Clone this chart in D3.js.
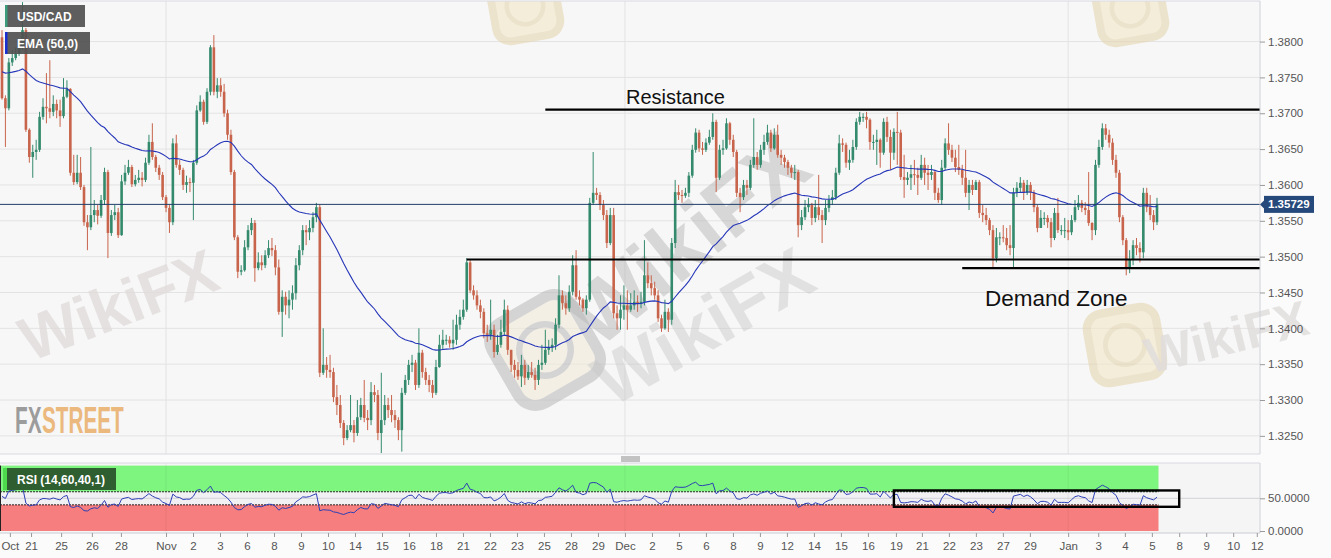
<!DOCTYPE html>
<html><head><meta charset="utf-8">
<script src="https://cdn.jsdelivr.net/npm/d3@7"></script>
<style>
body{margin:0;background:#ffffff;}
svg{display:block;font-family:"Liberation Sans",Arial,sans-serif;}
</style>
</head><body>
<svg id="chart" width="1331" height="558"></svg>
<script>
// ---------------- DATA ----------------
const symbol = "USD/CAD";
const emaLabel = "EMA (50,0)";
const rsiLabel = "RSI (14,60,40,1)";
const firstOpen = 1.3806;
const closes = [
1.3721,1.3707,1.3771,1.3777,1.3783,1.3791,1.3816,1.3677,1.3639,1.3646,
1.3649,1.3695,1.3709,1.3707,1.3702,1.3713,1.3704,1.3696,1.3723,1.3734,
1.3617,1.3604,1.3617,1.3597,1.3548,1.3541,1.3558,1.3565,1.3557,1.3579,
1.3618,1.3533,1.3558,1.3562,1.3530,1.3605,1.3617,1.3625,1.3601,1.3607,
1.3610,1.3607,1.3631,1.3660,1.3639,1.3624,1.3614,1.3583,1.3568,1.3548,
1.3658,1.3628,1.3621,1.3600,1.3604,1.3603,1.3631,1.3704,1.3716,1.3688,
1.3730,1.3792,1.3730,1.3739,1.3730,1.3700,1.3670,1.3618,1.3527,1.3479,
1.3481,1.3513,1.3537,1.3547,1.3484,1.3492,1.3488,1.3502,1.3512,1.3509,
1.3485,1.3423,1.3444,1.3432,1.3440,1.3449,1.3488,1.3509,1.3537,1.3534,
1.3540,1.3555,1.3569,1.3338,1.3349,1.3342,1.3339,1.3304,1.3293,1.3268,
1.3247,1.3258,1.3265,1.3254,1.3276,1.3293,1.3275,1.3272,1.3311,1.3307,
1.3254,1.3272,1.3293,1.3286,1.3279,1.3272,1.3258,1.3310,1.3328,1.3349,
1.3352,1.3321,1.3366,1.3339,1.3328,1.3321,1.3310,1.3346,1.3377,1.3384,
1.3384,1.3379,1.3384,1.3405,1.3416,1.3426,1.3492,1.3453,1.3446,1.3432,
1.3423,1.3393,1.3391,1.3398,1.3367,1.3377,1.3395,1.3426,1.3370,1.3349,
1.3342,1.3333,1.3349,1.3331,1.3339,1.3335,1.3328,1.3349,1.3352,1.3370,
1.3373,1.3377,1.3405,1.3446,1.3435,1.3428,1.3451,1.3488,1.3444,1.3440,
1.3428,1.3440,1.3575,1.3589,1.3586,1.3572,1.3558,1.3519,1.3558,1.3421,
1.3414,1.3426,1.3432,1.3426,1.3432,1.3437,1.3434,1.3437,1.3474,1.3463,
1.3456,1.3446,1.3414,1.3400,1.3423,1.3412,1.3519,1.3590,1.3586,1.3585,
1.3589,1.3613,1.3649,1.3673,1.3651,1.3649,1.3659,1.3667,1.3688,1.3610,
1.3649,1.3651,1.3686,1.3663,1.3646,1.3589,1.3583,1.3600,1.3596,1.3628,
1.3639,1.3628,1.3649,1.3660,1.3673,1.3651,1.3670,1.3642,1.3638,1.3632,
1.3624,1.3617,1.3618,1.3544,1.3555,1.3569,1.3572,1.3554,1.3569,1.3558,
1.3551,1.3568,1.3579,1.3583,1.3617,1.3658,1.3656,1.3631,1.3635,1.3653,
1.3688,1.3695,1.3695,1.3691,1.3660,1.3660,1.3663,1.3645,1.3688,1.3667,
1.3645,1.3674,1.3673,1.3611,1.3607,1.3610,1.3615,1.3614,1.3610,1.3628,
1.3617,1.3614,1.3618,1.3589,1.3579,1.3624,1.3658,1.3649,1.3638,1.3625,
1.3621,1.3610,1.3589,1.3600,1.3593,1.3604,1.3561,1.3558,1.3551,1.3537,
1.3498,1.3527,1.3527,1.3526,1.3516,1.3512,1.3589,1.3596,1.3603,1.3589,
1.3600,1.3589,1.3569,1.3540,1.3554,1.3554,1.3548,1.3526,1.3561,1.3537,
1.3537,1.3537,1.3534,1.3551,1.3569,1.3575,1.3568,1.3565,1.3547,1.3537,
1.3628,1.3653,1.3679,1.3670,1.3659,1.3635,1.3617,1.3555,1.3523,1.3484,
1.3496,1.3516,1.3512,1.3506,1.3589,1.3569,1.3558,1.3548,1.3573];
const highs = [
1.3816,1.3725,1.3777,1.3788,1.3792,1.3802,1.3855,1.3819,1.3679,1.3656,
1.3663,1.3702,1.3721,1.3756,1.3774,1.3725,1.3719,1.3719,1.3749,1.3746,
1.3735,1.3642,1.3642,1.3639,1.3600,1.3558,1.3653,1.3579,1.3572,1.3586,
1.3624,1.3621,1.3565,1.3572,1.3568,1.3614,1.3628,1.3635,1.3628,1.3614,
1.3621,1.3618,1.3638,1.3670,1.3686,1.3642,1.3628,1.3618,1.3586,1.3572,
1.3665,1.3670,1.3635,1.3624,1.3613,1.3610,1.3635,1.3711,1.3725,1.3719,
1.3735,1.3795,1.3809,1.3749,1.3749,1.3741,1.3705,1.3677,1.3621,1.3530,
1.3488,1.3523,1.3544,1.3554,1.3551,1.3506,1.3502,1.3509,1.3523,1.3526,
1.3516,1.3496,1.3453,1.3451,1.3453,1.3460,1.3498,1.3516,1.3544,1.3544,
1.3551,1.3562,1.3575,1.3572,1.3400,1.3360,1.3363,1.3345,1.3321,1.3307,
1.3272,1.3265,1.3307,1.3272,1.3300,1.3303,1.3328,1.3286,1.3325,1.3321,
1.3314,1.3338,1.3307,1.3303,1.3307,1.3286,1.3276,1.3317,1.3335,1.3356,
1.3363,1.3356,1.3400,1.3370,1.3345,1.3335,1.3328,1.3356,1.3391,1.3398,
1.3391,1.3389,1.3412,1.3419,1.3426,1.3440,1.3498,1.3496,1.3460,1.3453,
1.3440,1.3428,1.3405,1.3440,1.3405,1.3391,1.3412,1.3440,1.3432,1.3370,
1.3356,1.3353,1.3363,1.3356,1.3349,1.3353,1.3345,1.3356,1.3377,1.3398,
1.3384,1.3386,1.3414,1.3474,1.3453,1.3446,1.3460,1.3502,1.3509,1.3453,
1.3442,1.3446,1.3582,1.3646,1.3596,1.3590,1.3579,1.3565,1.3568,1.3568,
1.3432,1.3446,1.3460,1.3453,1.3449,1.3453,1.3446,1.3451,1.3523,1.3492,
1.3474,1.3465,1.3453,1.3419,1.3440,1.3428,1.3526,1.3607,1.3600,1.3593,
1.3596,1.3618,1.3656,1.3679,1.3677,1.3660,1.3665,1.3677,1.3700,1.3691,
1.3656,1.3663,1.3693,1.3688,1.3670,1.3649,1.3596,1.3607,1.3607,1.3635,
1.3693,1.3646,1.3656,1.3670,1.3684,1.3677,1.3679,1.3684,1.3649,1.3642,
1.3635,1.3628,1.3628,1.3621,1.3565,1.3579,1.3582,1.3575,1.3579,1.3614,
1.3565,1.3579,1.3586,1.3593,1.3624,1.3670,1.3665,1.3659,1.3649,1.3663,
1.3693,1.3702,1.3700,1.3702,1.3693,1.3670,1.3677,1.3665,1.3693,1.3695,
1.3677,1.3679,1.3702,1.3677,1.3642,1.3618,1.3628,1.3635,1.3624,1.3642,
1.3638,1.3628,1.3628,1.3621,1.3596,1.3635,1.3665,1.3686,1.3656,1.3649,
1.3656,1.3628,1.3649,1.3607,1.3607,1.3607,1.3607,1.3572,1.3568,1.3554,
1.3544,1.3540,1.3534,1.3544,1.3540,1.3544,1.3596,1.3604,1.3611,1.3607,
1.3607,1.3604,1.3593,1.3572,1.3565,1.3562,1.3558,1.3554,1.3568,1.3582,
1.3544,1.3554,1.3551,1.3558,1.3579,1.3586,1.3579,1.3576,1.3618,1.3548,
1.3635,1.3663,1.3686,1.3685,1.3677,1.3665,1.3642,1.3621,1.3558,1.3526,
1.3509,1.3523,1.3526,1.3520,1.3596,1.3596,1.3586,1.3565,1.3582];
const lows = [
1.3719,1.3653,1.3704,1.3766,1.3774,1.3780,1.3788,1.3674,1.3631,1.3610,
1.3635,1.3646,1.3691,1.3686,1.3693,1.3696,1.3693,1.3681,1.3693,1.3721,
1.3613,1.3600,1.3601,1.3593,1.3543,1.3509,1.3537,1.3548,1.3545,1.3554,
1.3572,1.3498,1.3529,1.3551,1.3526,1.3529,1.3600,1.3614,1.3597,1.3598,
1.3603,1.3598,1.3604,1.3628,1.3635,1.3618,1.3607,1.3579,1.3562,1.3533,
1.3544,1.3624,1.3614,1.3593,1.3589,1.3590,1.3551,1.3628,1.3702,1.3684,
1.3685,1.3725,1.3725,1.3721,1.3723,1.3695,1.3663,1.3614,1.3523,1.3470,
1.3474,1.3479,1.3509,1.3530,1.3465,1.3481,1.3481,1.3484,1.3498,1.3501,
1.3474,1.3419,1.3388,1.3419,1.3414,1.3426,1.3440,1.3481,1.3502,1.3516,
1.3523,1.3534,1.3548,1.3332,1.3335,1.3331,1.3331,1.3297,1.3279,1.3261,
1.3237,1.3244,1.3255,1.3241,1.3250,1.3272,1.3269,1.3258,1.3265,1.3297,
1.3244,1.3226,1.3265,1.3275,1.3269,1.3261,1.3244,1.3228,1.3307,1.3321,
1.3339,1.3314,1.3317,1.3331,1.3321,1.3311,1.3303,1.3307,1.3345,1.3370,
1.3377,1.3373,1.3370,1.3377,1.3398,1.3412,1.3423,1.3449,1.3440,1.3426,
1.3414,1.3386,1.3381,1.3384,1.3359,1.3363,1.3373,1.3391,1.3363,1.3339,
1.3331,1.3328,1.3318,1.3321,1.3328,1.3331,1.3314,1.3321,1.3342,1.3349,
1.3363,1.3367,1.3370,1.3400,1.3426,1.3419,1.3423,1.3446,1.3440,1.3432,
1.3423,1.3419,1.3437,1.3572,1.3579,1.3565,1.3551,1.3512,1.3516,1.3414,
1.3398,1.3398,1.3412,1.3398,1.3423,1.3426,1.3423,1.3428,1.3432,1.3456,
1.3446,1.3440,1.3409,1.3395,1.3398,1.3395,1.3405,1.3512,1.3579,1.3575,
1.3582,1.3583,1.3610,1.3645,1.3646,1.3642,1.3646,1.3656,1.3663,1.3590,
1.3607,1.3642,1.3649,1.3656,1.3639,1.3583,1.3562,1.3579,1.3586,1.3593,
1.3624,1.3621,1.3624,1.3642,1.3656,1.3646,1.3649,1.3638,1.3628,1.3624,
1.3614,1.3610,1.3607,1.3527,1.3537,1.3551,1.3562,1.3544,1.3548,1.3551,
1.3519,1.3544,1.3562,1.3572,1.3579,1.3614,1.3646,1.3624,1.3621,1.3631,
1.3649,1.3684,1.3688,1.3679,1.3649,1.3649,1.3628,1.3624,1.3642,1.3660,
1.3621,1.3635,1.3628,1.3607,1.3582,1.3600,1.3593,1.3600,1.3586,1.3607,
1.3600,1.3593,1.3607,1.3579,1.3575,1.3572,1.3621,1.3642,1.3632,1.3618,
1.3614,1.3600,1.3583,1.3565,1.3586,1.3593,1.3554,1.3548,1.3544,1.3530,
1.3485,1.3492,1.3516,1.3520,1.3509,1.3502,1.3485,1.3583,1.3590,1.3579,
1.3586,1.3579,1.3562,1.3534,1.3540,1.3544,1.3540,1.3513,1.3523,1.3533,
1.3530,1.3526,1.3523,1.3530,1.3548,1.3565,1.3562,1.3558,1.3543,1.3523,
1.3530,1.3624,1.3649,1.3663,1.3652,1.3628,1.3610,1.3548,1.3516,1.3474,
1.3477,1.3488,1.3502,1.3492,1.3498,1.3562,1.3551,1.3537,1.3544];
const emaPeriod = 50, emaSeed = 1.3758;
const rsiPeriod = 14, rsiUpper = 60, rsiLower = 40, rsiSeedGain = 0.0009, rsiSeedLoss = 0.0008;
const priceTicks = [1.3250,1.3300,1.3350,1.3400,1.3450,1.3500,1.3550,1.3600,1.3650,1.3700,1.3750,1.3800];
const rsiTicks = [0, 50];
const dateTickPos = [2.3,8.5,17.3,26.3,34.8,48.0,55.9,63.8,71.7,79.6,87.5,95.4,103.3,111.2,119.1,127.0,134.9,142.8,150.7,158.6,166.5,174.4,182.3,190.2,198.1,206.0,213.9,221.8,229.7,237.6,245.5,253.4,261.6,269.2,277.1,285.0,292.9,300.8,312.0,320.8,328.6,336.5,344.5,352.4,360.3,367.2];
const dateTickLabels = ["Oct","21","25","26","28","Nov","2","3","6","8","9","10","14","15","16","18","21","22","23","25","28","29","Dec","2","5","6","8","9","12","14","15","16","19","21","22","23","27","29","Jan","3","4","5","8","9","10","12"];
const monthLabels = ["Nov","Dec","Jan"];
const lastPrice = 1.35729;
const resistanceLevel = 1.3705, resistanceFrom = 159;
const supportLevel = 1.3496, supportFrom = 136;
const demandLevel = 1.3484, demandFrom = 281;
const rsiBoxFrom = 261, rsiBoxTo = 344.5, rsiBoxHigh = 62, rsiBoxLow = 37;

// ---------------- LAYOUT ----------------
const W = 1331, H = 558, plotL = 0, plotR = 1260;
const mainTop = 1, mainBot = 454, rsiTop = 463, rsiBot = 533;
const N = closes.length;
const svg = d3.select("#chart");
const x = d3.scaleLinear().domain([0, N - 1]).range([2, 1157]);
const y = d3.scaleLinear().domain([1.32247, 1.38566]).range([mainBot, mainTop]);
const yr = d3.scaleLinear().domain([0, 100]).range([531, 465.6]);

const candles = closes.map((c, i) => {
  const o = i === 0 ? firstOpen : closes[i - 1];
  return {i, o, c, h: Math.max(highs[i], o, c), l: Math.min(lows[i], o, c)};
});
// EMA(50)
const ema = []; let e = emaSeed; const k = 2 / (emaPeriod + 1);
closes.forEach((c, i) => { if (i > 0) e = e + k * (c - e); ema.push(e); });
// RSI(14), Wilder
const rsi = []; let ag = rsiSeedGain, al = rsiSeedLoss;
closes.forEach((c, i) => {
  if (i > 0) { const d = c - closes[i - 1];
    ag = (ag * (rsiPeriod - 1) + Math.max(d, 0)) / rsiPeriod;
    al = (al * (rsiPeriod - 1) + Math.max(-d, 0)) / rsiPeriod; }
  rsi.push(100 - 100 / (1 + ag / al));
});

// ---------------- BACKGROUNDS ----------------
svg.append("rect").attr("x", 0).attr("y", 0).attr("width", W).attr("height", H).attr("fill", "#fbfbfb");
svg.append("rect").attr("x", plotL).attr("y", mainTop).attr("width", plotR - plotL).attr("height", mainBot - mainTop).attr("fill", "#f7f7f7");
svg.append("rect").attr("x", plotL).attr("y", rsiTop).attr("width", plotR - plotL).attr("height", rsiBot - rsiTop).attr("fill", "#f5f5f5");

const defs = svg.append("defs");
defs.append("clipPath").attr("id", "mainClip").append("rect").attr("x", plotL).attr("y", mainTop).attr("width", plotR - plotL).attr("height", mainBot - mainTop);
defs.append("clipPath").attr("id", "rsiClip").append("rect").attr("x", plotL).attr("y", rsiTop).attr("width", plotR - plotL).attr("height", rsiBot - rsiTop);

// grid
const grid = svg.append("g").attr("clip-path", "url(#mainClip)");
grid.selectAll("line.h").data(priceTicks).join("line")
  .attr("x1", plotL).attr("x2", plotR).attr("y1", d => y(d)).attr("y2", d => y(d))
  .attr("stroke", "#e3e3e3").attr("stroke-width", 1);
const monthPos = dateTickPos.filter((p, j) => monthLabels.includes(dateTickLabels[j]));
grid.selectAll("line.v").data(monthPos).join("line")
  .attr("x1", d => x(d)).attr("x2", d => x(d)).attr("y1", mainTop).attr("y2", mainBot)
  .attr("stroke", "#e3e3e3");

// ---------------- WATERMARKS ----------------
const wmLogos = svg.append("g").attr("clip-path", "url(#mainClip)");
const wm = svg.append("g").attr("font-weight", "bold").attr("font-family", "'Liberation Sans',Arial,sans-serif");
function logo(g, cx, cy, s, rot, stroke, fill, op) {
  const lg = g.append("g").attr("transform", `translate(${cx},${cy}) rotate(${rot})`).attr("opacity", op);
  lg.append("rect").attr("x", -s/2).attr("y", -s/2).attr("width", s).attr("height", s).attr("rx", s*0.22)
    .attr("fill", fill).attr("stroke", stroke).attr("stroke-width", s*0.12);
  lg.append("circle").attr("r", s*0.28).attr("fill", "none").attr("stroke", stroke).attr("stroke-width", s*0.07);
}
wm.append("text").attr("transform", "translate(30,362) rotate(-21)").attr("font-size", 62).attr("fill", "#e2dcdc").attr("opacity", 0.8).text("WikiFX");
logo(wmLogos, 545, 350, 92, -30, "#b9b9b9", "#f1ead8", 0.55);
wm.append("text").attr("transform", "translate(598,350) rotate(-39)").attr("font-size", 84).attr("fill", "#b8b8b8").attr("opacity", 0.5).text("WikiFX");
wm.append("text").attr("transform", "translate(612,408) rotate(-30)").attr("font-size", 72).attr("fill", "#c8c8c8").attr("opacity", 0.45).text("WikiFX");
logo(wmLogos, 1125, 345, 70, -10, "#e6d6b0", "#f3e7c8", 0.6);
wm.append("text").attr("transform", "translate(1150,374) rotate(-14)").attr("font-size", 50).attr("fill", "#e0dcdc").attr("opacity", 0.8).text("WikiFX");
logo(wmLogos, 525, 6, 65, -10, "#e6d6b0", "#f3e7c8", 0.6);
logo(wmLogos, 1130, 8, 65, -10, "#e6d6b0", "#f3e7c8", 0.6);

// FXSTREET
const fxg = svg.append("g").attr("font-family", "'Liberation Sans',Arial,sans-serif").attr("font-weight", "bold").attr("font-size", 37);
fxg.append("text").attr("transform", "translate(15,433) scale(0.56,1)").attr("fill", "#9c9c9c").text("FX");
fxg.append("text").attr("transform", "translate(42,433) scale(0.56,1)").attr("fill", "#ebb97d").text("STREET");

// ---------------- CANDLES ----------------
const up = "#348a6c", dn = "#c8644b";
const cg = svg.append("g").attr("clip-path", "url(#mainClip)");
cg.selectAll("line.w").data(candles).join("line")
  .attr("x1", d => x(d.i)).attr("x2", d => x(d.i)).attr("y1", d => y(d.h)).attr("y2", d => y(d.l))
  .attr("stroke", d => d.c >= d.o ? up : dn).attr("stroke-width", 1);
const bw = 2.6;
cg.selectAll("rect.b").data(candles).join("rect")
  .attr("x", d => x(d.i) - bw / 2).attr("width", bw)
  .attr("y", d => y(Math.max(d.o, d.c)))
  .attr("height", d => Math.max(1, Math.abs(y(d.o) - y(d.c))))
  .attr("fill", d => d.c >= d.o ? up : dn);

// EMA
cg.append("path").datum(ema).attr("fill", "none").attr("stroke", "#2636b8").attr("stroke-width", 1.1)
  .attr("d", d3.line().x((d, i) => x(i)).y(d => y(d)));

// last price line
cg.append("line").attr("x1", plotL).attr("x2", plotR).attr("y1", y(lastPrice)).attr("y2", y(lastPrice))
  .attr("stroke", "#1f3f68").attr("stroke-width", 1);

// annotation lines
const ann = svg.append("g");
ann.append("line").attr("x1", x(resistanceFrom)).attr("x2", plotR).attr("y1", y(resistanceLevel)).attr("y2", y(resistanceLevel)).attr("stroke", "#000").attr("stroke-width", 2.2);
ann.append("line").attr("x1", x(supportFrom)).attr("x2", plotR).attr("y1", y(supportLevel)).attr("y2", y(supportLevel)).attr("stroke", "#000").attr("stroke-width", 2.2);
ann.append("line").attr("x1", x(demandFrom)).attr("x2", plotR).attr("y1", y(demandLevel)).attr("y2", y(demandLevel)).attr("stroke", "#000").attr("stroke-width", 2.2);
ann.append("text").attr("x", 626).attr("y", y(resistanceLevel) - 6).attr("font-size", 20).attr("fill", "#111").text("Resistance");
ann.append("text").attr("x", 985).attr("y", 306).attr("font-size", 22.5).attr("fill", "#111").text("Demand Zone");

// legends
function legend(yy, w, stripe, txt, bg) {
  svg.append("rect").attr("x", 5).attr("y", yy).attr("width", w).attr("height", 22).attr("fill", bg);
  svg.append("rect").attr("x", 5).attr("y", yy).attr("width", 2.5).attr("height", 22).attr("fill", stripe);
  svg.append("text").attr("x", 17).attr("y", yy + 15.5).attr("font-size", 12).attr("font-weight", "bold").attr("fill", "#fff").text(txt);
}
legend(5, 80, "#3b9b7b", symbol, "rgba(80,80,80,0.92)");
legend(32, 85, "#1a2fd2", emaLabel, "rgba(80,80,80,0.92)");

// main borders
svg.append("line").attr("x1", 0).attr("x2", plotR).attr("y1", mainTop).attr("y2", mainTop).attr("stroke", "#d9dae2");
svg.append("line").attr("x1", 0).attr("x2", plotR).attr("y1", mainBot).attr("y2", mainBot).attr("stroke", "#d9dae2");
svg.append("line").attr("x1", plotR).attr("x2", plotR).attr("y1", mainTop).attr("y2", mainBot).attr("stroke", "#cfd2da");

// price axis
const yAxis = d3.axisRight(y).tickValues(priceTicks).tickFormat(d3.format(".4f")).tickSize(5).tickPadding(3);
const ya = svg.append("g").attr("transform", `translate(${plotR},0)`).call(yAxis);
ya.select(".domain").remove();
ya.selectAll("line").attr("stroke", "#9a9a9a");
ya.selectAll("text").attr("font-size", 11.5).attr("fill", "#555").attr("font-family", "'Liberation Sans',Arial,sans-serif");

// last price label
const ly = y(lastPrice);
svg.append("path").attr("d", `M${plotR},${ly} L${plotR + 5},${ly - 5} L${plotR + 5},${ly + 5} Z`).attr("fill", "#24497a");
svg.append("rect").attr("x", plotR + 4).attr("y", ly - 8.5).attr("width", 50).attr("height", 17).attr("fill", "#24497a");
svg.append("text").attr("x", plotR + 8).attr("y", ly + 4).attr("font-size", 11.5).attr("font-weight", "bold").attr("fill", "#fff").text(lastPrice.toFixed(5));

// ---------------- PANEL SEPARATOR ----------------
[457, 459, 461].forEach(v => svg.append("line").attr("x1", 621).attr("x2", 640).attr("y1", v).attr("y2", v).attr("stroke", "#8a8a8a"));

// ---------------- RSI PANEL ----------------
const lastX = x(N - 1) + 1.5;
const rg = svg.append("g").attr("clip-path", "url(#rsiClip)");
rg.append("rect").attr("x", plotL).attr("y", yr(100)).attr("width", lastX - plotL).attr("height", yr(rsiUpper) - yr(100)).attr("fill", "#7ef57e");
rg.append("rect").attr("x", plotL).attr("y", yr(rsiUpper)).attr("width", lastX - plotL).attr("height", yr(rsiLower) - yr(rsiUpper)).attr("fill", "#f1f1f4");
rg.append("rect").attr("x", plotL).attr("y", yr(rsiLower)).attr("width", lastX - plotL).attr("height", yr(0) - yr(rsiLower)).attr("fill", "#f77e7e");
rg.append("line").attr("x1", plotL).attr("x2", plotR).attr("y1", yr(50)).attr("y2", yr(50)).attr("stroke", "#d3d3d8");
rg.selectAll("line.mv").data(monthPos).join("line").attr("x1", d => x(d)).attr("x2", d => x(d)).attr("y1", rsiTop).attr("y2", rsiBot).attr("stroke", "#000").attr("stroke-opacity", 0.06);
[rsiUpper, rsiLower].forEach(v => rg.append("line").attr("x1", plotL).attr("x2", lastX).attr("y1", yr(v)).attr("y2", yr(v))
  .attr("stroke", "#111").attr("stroke-width", 0.9).attr("stroke-dasharray", "2,1"));
rg.append("line").attr("x1", 0.5).attr("x2", 0.5).attr("y1", yr(100)).attr("y2", yr(0)).attr("stroke", "#222");
rg.append("path").datum(rsi).attr("fill", "none").attr("stroke", "#2c3fb5").attr("stroke-width", 1)
  .attr("d", d3.line().x((d, i) => x(i)).y(d => yr(d)));
// annotation box on RSI
svg.append("rect").attr("x", x(rsiBoxFrom)).attr("y", yr(rsiBoxHigh)).attr("width", x(rsiBoxTo) - x(rsiBoxFrom)).attr("height", yr(rsiBoxLow) - yr(rsiBoxHigh))
  .attr("fill", "none").attr("stroke", "#000").attr("stroke-width", 2.4);
// RSI legend
svg.append("rect").attr("x", 5).attr("y", 468).attr("width", 111).attr("height", 22).attr("fill", "#2f5f30");
svg.append("rect").attr("x", 3).attr("y", 468).attr("width", 4).attr("height", 22).attr("fill", "#4ed84e");
svg.append("text").attr("x", 17).attr("y", 483.5).attr("font-size", 12).attr("font-weight", "bold").attr("fill", "#fff").text(rsiLabel);
// RSI borders
svg.append("line").attr("x1", 0).attr("x2", plotR).attr("y1", rsiTop).attr("y2", rsiTop).attr("stroke", "#d9dae2");
svg.append("line").attr("x1", plotR).attr("x2", plotR).attr("y1", rsiTop).attr("y2", rsiBot).attr("stroke", "#cfd2da");
const ra = svg.append("g").attr("transform", `translate(${plotR},0)`).call(d3.axisRight(yr).tickValues(rsiTicks).tickFormat(d3.format(".4f")).tickSize(5).tickPadding(3));
ra.select(".domain").remove();
ra.selectAll("line").attr("stroke", "#9a9a9a");
ra.selectAll("text").attr("font-size", 11.5).attr("fill", "#555").attr("font-family", "'Liberation Sans',Arial,sans-serif");

// ---------------- DATE AXIS ----------------
const xa = svg.append("g").attr("transform", `translate(0,${rsiBot})`)
  .call(d3.axisBottom(x).tickValues(dateTickPos).tickFormat((d, j) => dateTickLabels[j]).tickSize(4).tickPadding(5));
xa.select(".domain").attr("d", `M0,0H${plotR}`).attr("stroke", "#c9ccd4");
xa.selectAll("line").attr("stroke", "#9a9a9a");
xa.selectAll("text").attr("font-size", 11.5).attr("fill", "#555").attr("font-family", "'Liberation Sans',Arial,sans-serif");
</script>
</body></html>
